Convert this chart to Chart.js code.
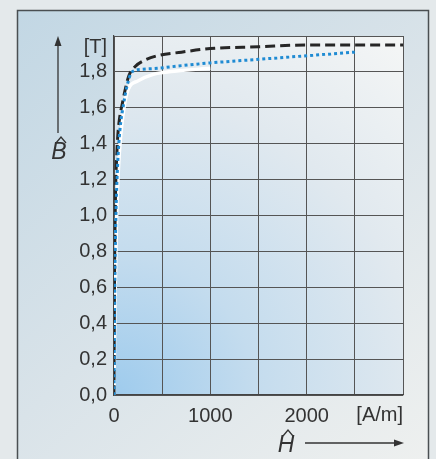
<!DOCTYPE html>
<html>
<head>
<meta charset="utf-8">
<script src="https://cdn.jsdelivr.net/npm/chart.js@4/dist/chart.umd.min.js"></script>
<style>
  html, body { margin: 0; padding: 0; background: #dfe6ea; }
  canvas { display: block; }
</style>
</head>
<body>
<canvas id="bhChart" width="436" height="459"></canvas>
<script>
// H in A/m, B in T
var blackH = [0, 5, 15, 30, 40, 60, 85, 120, 155, 220, 300, 450, 700, 1000, 1500, 2000, 2500, 3000];
var blackB = [0, 0.6, 1.1, 1.35, 1.45, 1.55, 1.62, 1.71, 1.78, 1.83, 1.86, 1.89, 1.91, 1.93, 1.94, 1.95, 1.95, 1.95];

var blueH = [0, 8, 20, 35, 50, 70, 93, 130, 187, 300, 450, 700, 1000, 1500, 2000, 2500];
var blueB = [0, 0.6, 1.0, 1.25, 1.4, 1.52, 1.6, 1.71, 1.8, 1.815, 1.82, 1.835, 1.85, 1.87, 1.89, 1.91];

var whiteH = [0, 10, 25, 45, 70, 104, 145, 250, 400, 650, 1000];
var whiteB = [0, 0.5, 0.95, 1.25, 1.45, 1.6, 1.70, 1.75, 1.785, 1.805, 1.82];

var xTicks = [0, 1000, 2000];
var xUnit = "[A/m]";
var yUnit = "[T]";

function toPoints(xs, ys) {
    return xs.map(function (x, i) { return { x: x, y: ys[i] }; });
}

var fontFamily = "'Liberation Sans', Arial, sans-serif";

var backgroundPlugin = {
    id: "background",
    beforeDraw: function (chart) {
        var ctx = chart.ctx;
        var area = chart.chartArea;
        ctx.save();
        // outer page
        ctx.fillStyle = "#e4e9eb";
        ctx.fillRect(0, 0, chart.width, chart.height);
        // inner box
        var g = ctx.createLinearGradient(17, 10, 429, 459);
        g.addColorStop(0, "#c2d7e4");
        g.addColorStop(0.5, "#d9e3e9");
        g.addColorStop(1, "#eef0ef");
        ctx.fillStyle = g;
        ctx.fillRect(17, 10, 412, 460);
        ctx.strokeStyle = "#4a4f52";
        ctx.lineWidth = 1.5;
        ctx.strokeRect(17.5, 10.5, 411, 460);
        // plot area
        var g2 = ctx.createRadialGradient(area.left, area.bottom, 0, area.left, area.bottom, 470);
        g2.addColorStop(0, "#9ecbed");
        g2.addColorStop(0.3, "#c4dcee");
        g2.addColorStop(0.65, "#e1e9ef");
        g2.addColorStop(1, "#f6f7f6");
        ctx.fillStyle = g2;
        ctx.fillRect(area.left, area.top, area.right - area.left, area.bottom - area.top);
        ctx.restore();
    },
    afterDraw: function (chart) {
        var ctx = chart.ctx;
        var xs = chart.scales.x;
        var ys = chart.scales.y;
        ctx.save();
        ctx.fillStyle = "#333";
        ctx.strokeStyle = "#333";
        ctx.font = "20px " + fontFamily;
        ctx.textBaseline = "middle";
        // units
        ctx.textAlign = "right";
        ctx.fillText(yUnit, ys.right - 7, ys.getPixelForValue(2.0) + 11);
        ctx.fillText(xUnit, xs.getPixelForValue(3000), xs.top + 20);

        // B label with hat and arrow
        ctx.font = "italic 23px " + fontFamily;
        ctx.textAlign = "center";
        ctx.fillText("B", 59, 153);
        drawHat(ctx, 61, 139);
        drawArrow(ctx, 58, 133, 58, 36);

        // H label with hat and arrow
        ctx.fillText("H", 286, 446);
        drawHat(ctx, 288, 432);
        drawArrow(ctx, 305, 443, 404, 443);
        ctx.restore();
    }
};

function drawHat(ctx, x, y) {
    ctx.beginPath();
    ctx.lineWidth = 1.3;
    ctx.moveTo(x - 5, y + 4);
    ctx.lineTo(x, y - 2);
    ctx.lineTo(x + 5, y + 4);
    ctx.stroke();
}

function drawArrow(ctx, x1, y1, x2, y2) {
    var ang = Math.atan2(y2 - y1, x2 - x1);
    ctx.beginPath();
    ctx.lineWidth = 1.3;
    ctx.moveTo(x1, y1);
    ctx.lineTo(x2 - 6 * Math.cos(ang), y2 - 6 * Math.sin(ang));
    ctx.stroke();
    ctx.beginPath();
    ctx.moveTo(x2, y2);
    ctx.lineTo(x2 - 10 * Math.cos(ang) + 3.5 * Math.sin(ang), y2 - 10 * Math.sin(ang) - 3.5 * Math.cos(ang));
    ctx.lineTo(x2 - 10 * Math.cos(ang) - 3.5 * Math.sin(ang), y2 - 10 * Math.sin(ang) + 3.5 * Math.cos(ang));
    ctx.closePath();
    ctx.fill();
}

var config = {
    type: "line",
    data: {
        datasets: [
            {
                label: "dotted",
                data: toPoints(blueH, blueB),
                borderColor: "#1f8bd3",
                borderWidth: 3,
                borderDash: [3, 3],
                cubicInterpolationMode: "monotone",
                pointRadius: 0
            },
            {
                label: "dashed",
                data: toPoints(blackH, blackB),
                borderColor: "#262626",
                borderWidth: 3,
                borderDash: [10, 5],
                cubicInterpolationMode: "monotone",
                pointRadius: 0
            },
            {
                label: "solid",
                data: toPoints(whiteH, whiteB),
                borderColor: "#ffffff",
                borderWidth: 3.5,
                cubicInterpolationMode: "monotone",
                pointRadius: 0
            }
        ]
    },
    options: {
        responsive: false,
        animation: false,
        layout: { padding: { left: 0, right: 33, top: 36, bottom: 0 } },
        plugins: {
            legend: { display: false },
            tooltip: { enabled: false }
        },
        scales: {
            x: {
                type: "linear",
                min: 0,
                max: 3000,
                afterFit: function (scale) { scale.height = 64; },
                grid: { color: "#555", lineWidth: 1, drawTicks: false },
                border: { color: "#444", width: 1.2 },
                ticks: {
                    stepSize: 500,
                    padding: 9,
                    color: "#333",
                    font: { family: fontFamily, size: 20 },
                    maxRotation: 0,
                    autoSkip: false,
                    callback: function (v) { return xTicks.indexOf(v) >= 0 ? String(v) : ""; }
                }
            },
            y: {
                min: 0,
                max: 2.0,
                afterFit: function (scale) { scale.width = 114; },
                grid: { color: "#555", lineWidth: 1, drawTicks: false },
                border: { color: "#444", width: 1.2 },
                ticks: {
                    stepSize: 0.2,
                    padding: 7,
                    color: "#333",
                    font: { family: fontFamily, size: 20 },
                    callback: function (v) { return v > 1.95 ? "" : v.toFixed(1).replace(".", ","); }
                }
            }
        }
    },
    plugins: [backgroundPlugin]
};

window.addEventListener("load", function () {
    var chart = new Chart(document.getElementById("bhChart"), config);
});
</script>
</body>
</html>
